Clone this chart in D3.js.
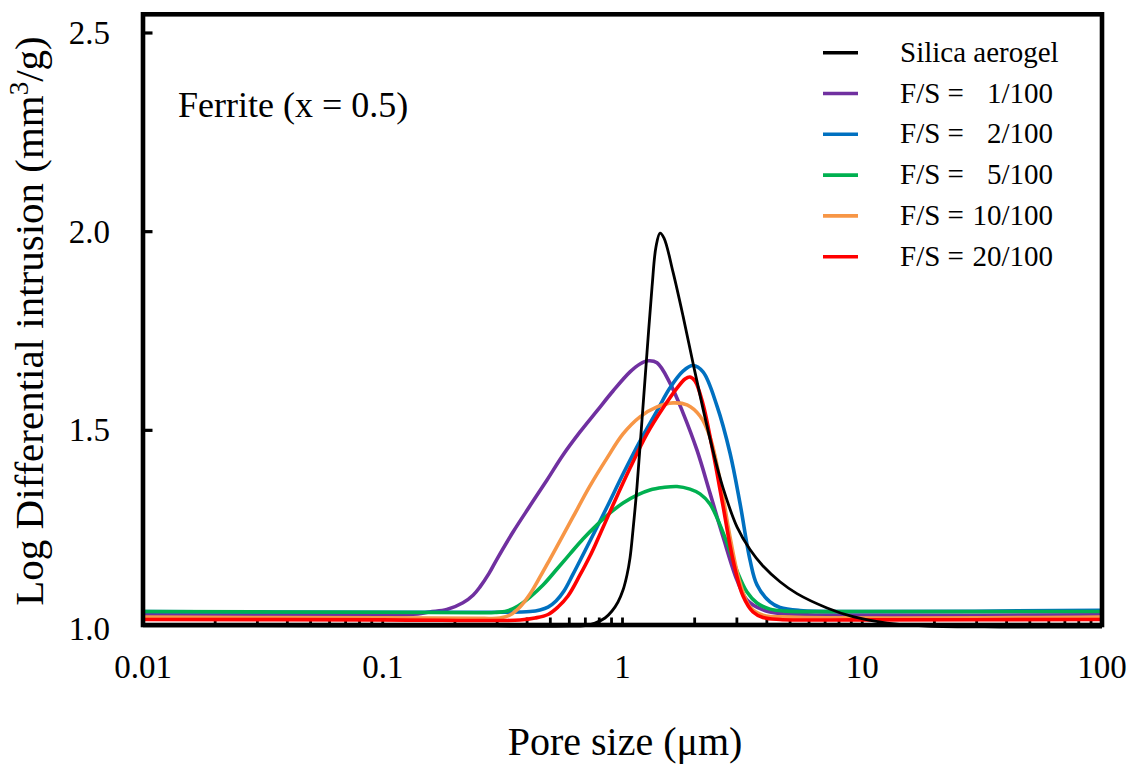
<!DOCTYPE html>
<html>
<head>
<meta charset="utf-8">
<script src="https://cdn.jsdelivr.net/npm/d3@7"></script>
<style>
  body { margin: 0; background: #fff; }
  svg { display: block; font-family: "Liberation Serif", "Times New Roman", serif; }
</style>
</head>
<body>
<svg id="chart" width="1137" height="769"></svg>
<script>
// Pore size distributions (mercury intrusion), pore size in µm
const poreSilica = [0.01, 0.3, 0.6, 0.6977, 0.7678, 0.8455, 0.9042, 0.9577, 1.005, 1.044, 1.075, 1.106, 1.149, 1.206, 1.265, 1.328, 1.379, 1.434, 1.49, 1.624, 1.788, 1.968, 2.167, 2.385, 2.626, 3.003, 3.402, 3.855, 4.539, 5.343, 7.129, 9.15, 12.68, 18.62, 37.5, 100];
const intrSilica = [1.008, 1.007, 1.007, 1.0088, 1.0151, 1.0277, 1.0453, 1.068, 1.098, 1.136, 1.179, 1.249, 1.357, 1.526, 1.695, 1.861, 1.9615, 1.9965, 1.984, 1.8986, 1.788, 1.6695, 1.554, 1.448, 1.355, 1.257, 1.2, 1.1586, 1.119, 1.089, 1.053, 1.031, 1.015, 1.0076, 1.005, 1.005];

const poreFS1 = [0.01, 0.05, 0.1, 0.14, 0.157, 0.185, 0.216, 0.238, 0.2545, 0.2775, 0.2996, 0.3494, 0.4113, 0.4843, 0.5648, 0.665, 0.7826, 0.9129, 1.075, 1.183, 1.278, 1.393, 1.578, 1.788, 2.045, 2.317, 2.626, 3.003, 3.306, 3.855, 4.5, 10, 100];
const intrFS1 = [1.036, 1.035, 1.035, 1.038, 1.043, 1.049, 1.066, 1.085, 1.106, 1.14, 1.176, 1.244, 1.31, 1.375, 1.438, 1.496, 1.549, 1.599, 1.647, 1.667, 1.675, 1.67, 1.619, 1.544, 1.45, 1.342, 1.232, 1.123, 1.073, 1.048, 1.039, 1.035, 1.036];

const poreFS2 = [0.01, 0.1, 0.3, 0.4113, 0.4528, 0.4891, 0.528, 0.57, 0.6218, 0.7318, 0.8617, 1.005, 1.183, 1.393, 1.578, 1.788, 1.968, 2.167, 2.479, 2.808, 3.09, 3.402, 3.639, 4.124, 4.539, 5.5, 10, 100];
const intrFS2 = [1.044, 1.042, 1.042, 1.044, 1.048, 1.055, 1.0705, 1.0956, 1.138, 1.2215, 1.307, 1.39, 1.473, 1.549, 1.607, 1.649, 1.663, 1.647, 1.561, 1.443, 1.317, 1.174, 1.111, 1.068, 1.054, 1.0466, 1.044, 1.047];

const poreFS5 = [0.01, 0.1, 0.25, 0.2939, 0.3297, 0.3665, 0.4113, 0.4661, 0.5331, 0.604, 0.684, 0.7826, 0.887, 1.005, 1.149, 1.302, 1.475, 1.688, 1.912, 2.105, 2.317, 2.502, 2.729, 3.003, 3.306, 3.639, 4.124, 4.762, 10, 100];
const intrFS5 = [1.044, 1.042, 1.041, 1.0415, 1.0453, 1.0579, 1.0805, 1.1107, 1.151, 1.189, 1.2265, 1.262, 1.292, 1.317, 1.337, 1.35, 1.356, 1.3587, 1.352, 1.34, 1.3146, 1.274, 1.2165, 1.146, 1.093, 1.0654, 1.05, 1.045, 1.044, 1.044];

const poreFS10 = [0.01, 0.1, 0.25, 0.28, 0.3083, 0.3394, 0.3736, 0.4113, 0.4528, 0.4984, 0.5487, 0.6218, 0.7318, 0.8617, 1.005, 1.183, 1.393, 1.624, 1.858, 2.105, 2.317, 2.551, 2.808, 3.09, 3.402, 3.855, 5, 100];
const intrFS10 = [1.03, 1.028, 1.027, 1.0264, 1.0277, 1.0352, 1.0554, 1.088, 1.131, 1.176, 1.2215, 1.282, 1.36, 1.43, 1.491, 1.534, 1.559, 1.569, 1.564, 1.536, 1.483, 1.375, 1.232, 1.116, 1.055, 1.035, 1.03, 1.03];

const poreFS20 = [0.01, 0.1, 0.3236, 0.3736, 0.4315, 0.4891, 0.5382, 0.5924, 0.665, 0.7318, 0.7826, 0.9129, 1.075, 1.265, 1.475, 1.688, 1.823, 1.912, 2.006, 2.167, 2.385, 2.626, 2.89, 3.182, 3.503, 3.855, 4.539, 10, 100];
const intrFS20 = [1.024, 1.023, 1.0214, 1.0227, 1.0277, 1.0365, 1.0554, 1.083, 1.136, 1.1837, 1.2215, 1.312, 1.405, 1.491, 1.556, 1.6063, 1.629, 1.634, 1.624, 1.566, 1.4455, 1.3096, 1.1737, 1.083, 1.0428, 1.029, 1.024, 1.023, 1.024];

const seriesNames = ["Silica aerogel", "F/S =   1/100", "F/S =   2/100", "F/S =   5/100", "F/S = 10/100", "F/S = 20/100"];
const seriesFractions = ["", "1/100", "2/100", "5/100", "10/100", "20/100"];
const seriesColors = ["#000000", "#7030A0", "#0070C0", "#00B050", "#F79646", "#FF0000"];
const seriesPores = [poreSilica, poreFS1, poreFS2, poreFS5, poreFS10, poreFS20];
const seriesIntr = [intrSilica, intrFS1, intrFS2, intrFS5, intrFS10, intrFS20];

const xTicks = [0.01, 0.1, 1, 10, 100];
const xTickLabels = ["0.01", "0.1", "1", "10", "100"];
const yTicks = [1.0, 1.5, 2.0, 2.5];

const svg = d3.select("#chart");

const x = d3.scaleLog().domain([0.01, 100]).range([143, 1102]);
const y = d3.scaleLinear().domain([1.0, 2.5]).range([629, 33]);

const plotTop = 14.3, plotBottom = 625;

const line = d3.line()
  .x(d => x(d[0]))
  .y(d => y(d[1]))
  .curve(d3.curveCatmullRom.alpha(0.5));

// Minor (and decade) ticks on the pore-size axis, pointing inward, under the curves
const minorTicks = [];
for (let e = -2; e < 2; e++) {
  for (let m = 1; m <= 9; m++) {
    const v = m * Math.pow(10, e);
    if (v > 0.01 && v < 100) minorTicks.push(v);
  }
}
svg.append("g").selectAll("line").data(minorTicks).join("line")
  .attr("x1", d => x(d)).attr("x2", d => x(d))
  .attr("y1", plotBottom).attr("y2", plotBottom - 7.5)
  .attr("stroke", "#000").attr("stroke-width", 2.8);

// Curves: ferrite samples first, silica aerogel on top
const order = [1, 2, 3, 4, 5, 0];
const curves = svg.append("g");
order.forEach(i => {
  const pts = seriesPores[i].map((p, k) => [p, seriesIntr[i][k]]);
  curves.append("path")
    .datum(pts)
    .attr("d", line)
    .attr("fill", "none")
    .attr("stroke", seriesColors[i])
    .attr("stroke-width", i === 0 ? 2.8 : 3.6)
    .attr("stroke-linejoin", "round");
});

// Intrusion axis ticks
svg.append("g").selectAll("line").data(yTicks.filter(v => v > 1)).join("line")
  .attr("x1", x(0.01)).attr("x2", x(0.01) + 9.5)
  .attr("y1", d => y(d)).attr("y2", d => y(d))
  .attr("stroke", "#000").attr("stroke-width", 3.2);

// Plot frame
svg.append("rect")
  .attr("x", x(0.01)).attr("y", plotTop)
  .attr("width", x(100) - x(0.01)).attr("height", plotBottom - plotTop)
  .attr("fill", "none").attr("stroke", "#000").attr("stroke-width", 4.6);

// Tick labels
svg.append("g").selectAll("text").data(xTicks).join("text")
  .attr("x", d => x(d)).attr("y", 678)
  .attr("text-anchor", "middle")
  .attr("font-size", 33)
  .text((d, i) => xTickLabels[i]);

svg.append("g").selectAll("text").data(yTicks).join("text")
  .attr("x", 110).attr("y", d => y(d) + 11)
  .attr("text-anchor", "end")
  .attr("font-size", 33)
  .text(d => d3.format(".1f")(d));

// Axis titles
svg.append("text")
  .attr("x", 625).attr("y", 755)
  .attr("text-anchor", "middle")
  .attr("font-size", 40)
  .text("Pore size (\u03bcm)");

const yTitle = svg.append("text")
  .attr("transform", "translate(43,321) rotate(-90)")
  .attr("text-anchor", "middle")
  .attr("font-size", 41);
yTitle.append("tspan").text("Log Differential intrusion (mm");
yTitle.append("tspan").attr("font-size", 27).attr("dy", -15).text("3");
yTitle.append("tspan").attr("dy", 15).text("/g)");

// Sample annotation
svg.append("text")
  .attr("x", 178).attr("y", 117)
  .attr("font-size", 36)
  .text("Ferrite (x = 0.5)");

// Legend
const legend = svg.append("g");
seriesNames.forEach((name, i) => {
  const ly = 52.7 + i * 40.8;
  legend.append("line")
    .attr("x1", 823).attr("x2", 858)
    .attr("y1", ly).attr("y2", ly)
    .attr("stroke", seriesColors[i]).attr("stroke-width", 3.6);
  if (i === 0) {
    legend.append("text").attr("x", 900).attr("y", ly + 9)
      .attr("font-size", 29).text(name);
  } else {
    legend.append("text").attr("x", 900).attr("y", ly + 9)
      .attr("font-size", 29).text("F/S =");
    legend.append("text").attr("x", 1053).attr("y", ly + 9)
      .attr("text-anchor", "end")
      .attr("font-size", 29).text(seriesFractions[i]);
  }
});
</script>
</body>
</html>
